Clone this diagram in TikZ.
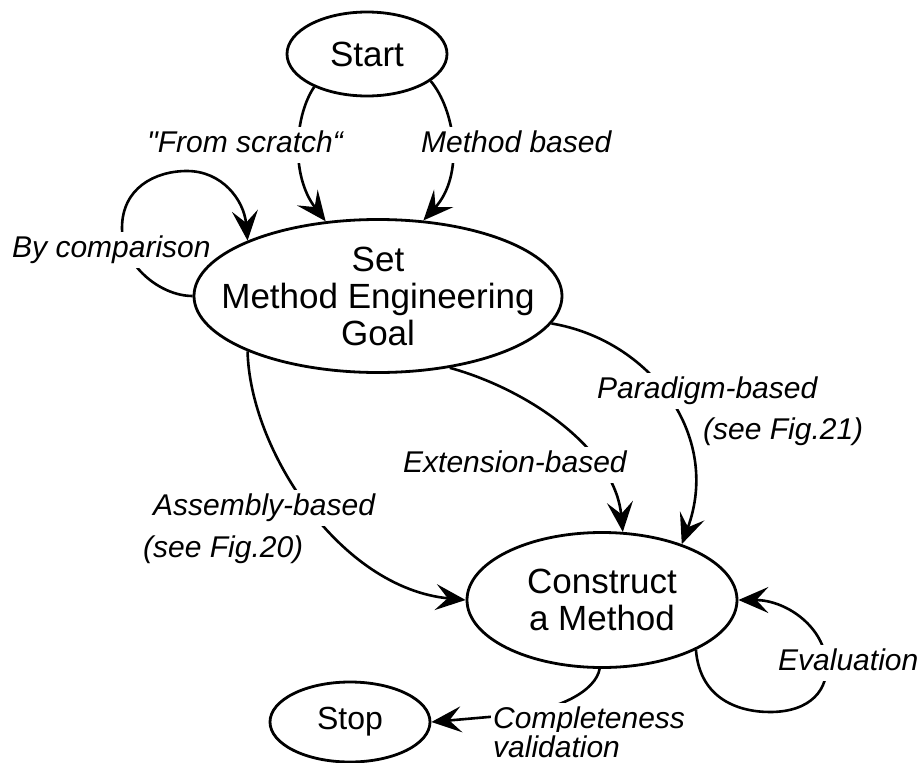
\documentclass[tikz,border=0pt]{standalone}
\usepackage{fontspec}
\setmainfont{Liberation Sans}[Ligatures=TeXOff]
\usetikzlibrary{arrows.meta,shapes.geometric}
\pgfdeclarelayer{conn}
\pgfdeclarelayer{labs}
\pgfsetlayers{conn,labs,main}
\begin{document}
\begin{tikzpicture}[x=1pt,y=1pt,
  state/.style={ellipse,draw,line width=2.8pt,inner sep=0pt,align=center},
  big/.style={font=\fontsize{35}{37}\selectfont},
  lab/.style={font=\fontsize{30}{34}\selectfont\itshape,fill=white,inner xsep=2pt,inner ysep=1pt,anchor=base west,execute at begin node=\strut},
  conn/.style={line width=2.6pt},
  arr/.style={conn,-{Stealth[length=30pt,width=26pt,inset=12pt]}}]
\useasboundingbox (0,0) rectangle (922,-763);
% states
\node[state,big,minimum width=160pt,minimum height=84pt] (start) at (367,-54) {Start};
\node[state,minimum width=368pt,minimum height=153pt,
      label={[big,align=center]center:Set\\Method Engineering\\Goal}] (goal) at (378,-296) {};
\node[state,big,minimum width=270pt,minimum height=135pt] (construct) at (602,-600) {Construct\\a Method};
\node[state,font=\fontsize{32}{36}\selectfont,minimum width=160pt,minimum height=80pt] (stop) at (350,-722) {Stop};
% connectors
\begin{pgfonlayer}{conn}
\draw[arr] (start.212) .. controls (295,-115) and (290,-175) .. (goal.125);
\draw[arr] (start.-23) .. controls (455,-110) and (465,-175) .. (goal.59);
\draw[arr] (goal.180) .. controls (160,-296) and (122,-265) .. (122,-228)
   .. controls (122,-188) and (155,-171) .. (187,-171)
   .. controls (222,-171) and (244,-200) .. (goal.157);
\draw[arr] (goal.-9) .. controls (650,-340) and (722,-435) .. (construct.35);
\draw[arr] (goal.-45) .. controls (530,-390) and (615,-450) .. (construct.73);
\draw[arr] (goal.203) .. controls (250,-450) and (340,-588) .. (construct.180);
\draw[arr] (construct.-28) .. controls (700,-700) and (740,-712) .. (770,-712)
   .. controls (810,-712) and (830,-690) .. (826,-660)
   .. controls (822,-625) and (785,-600) .. (construct.0);
\draw[arr] (construct.268) .. controls (596,-690) and (560,-712) .. (500,-716) -- (stop.0);
\end{pgfonlayer}
% labels
\begin{pgfonlayer}{labs}
\node[lab] (fs) at (145,-152) {"From scratch“};
\node[lab] (mb) at (419,-152) {Method based};
\node[lab] (bc) at (10,-257) {By comparison};
\node[lab] (pb) at (595,-398) {Paradigm-based};
\node[lab] (pb2) at (701,-439) {(see Fig.21)};
\node[lab] (eb) at (401,-472) {Extension-based};
\node[lab] (ab) at (151,-515) {Assembly-based};
\node[lab] (ab2) at (141,-557) {(see Fig.20)};
\node[lab] (ev) at (776,-670) {Evaluation};
\node[lab] (cv) at (491,-728) {Completeness};
\node[lab] (cv2) at (491,-757) {validation};
\end{pgfonlayer}
\end{tikzpicture}
\end{document}
